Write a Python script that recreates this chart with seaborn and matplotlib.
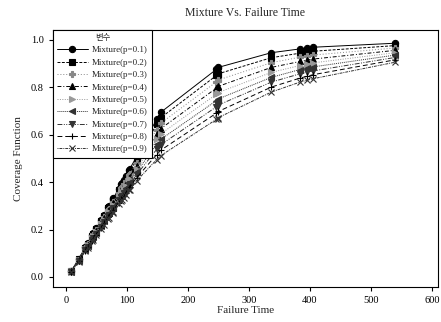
import matplotlib
matplotlib.use('Agg')
import matplotlib.pyplot as plt
import seaborn as sns
import pandas as pd

# NTDS failure times
failure_time = [9, 21, 32, 36, 43, 45, 50, 58, 63, 70, 71, 77, 78, 87, 91, 92, 95, 98,
                104, 105, 116, 149, 156, 247, 249, 250, 337, 384, 396, 405, 540]

cov_p01 = [0.025, 0.075, 0.125, 0.143, 0.175, 0.184, 0.205, 0.240, 0.263, 0.295, 0.300,
           0.327, 0.332, 0.373, 0.392, 0.396, 0.410, 0.424, 0.452, 0.456, 0.507, 0.665,
           0.695, 0.876, 0.880, 0.884, 0.946, 0.962, 0.966, 0.969, 0.986]
cov_p02 = [0.024, 0.074, 0.123, 0.141, 0.172, 0.181, 0.201, 0.235, 0.258, 0.289, 0.294,
           0.320, 0.325, 0.365, 0.383, 0.387, 0.400, 0.414, 0.441, 0.445, 0.494, 0.644,
           0.672, 0.850, 0.853, 0.857, 0.925, 0.944, 0.949, 0.952, 0.976]
cov_p03 = [0.024, 0.073, 0.121, 0.138, 0.169, 0.177, 0.198, 0.231, 0.253, 0.283, 0.288,
           0.313, 0.318, 0.356, 0.374, 0.378, 0.391, 0.404, 0.430, 0.434, 0.481, 0.622,
           0.649, 0.823, 0.827, 0.831, 0.904, 0.927, 0.932, 0.936, 0.966]
cov_p04 = [0.023, 0.071, 0.119, 0.136, 0.166, 0.174, 0.194, 0.226, 0.247, 0.277, 0.281,
           0.306, 0.311, 0.348, 0.365, 0.369, 0.382, 0.394, 0.419, 0.423, 0.469, 0.601,
           0.626, 0.797, 0.800, 0.804, 0.884, 0.909, 0.915, 0.919, 0.956]
cov_p05 = [0.023, 0.070, 0.117, 0.133, 0.163, 0.171, 0.190, 0.222, 0.242, 0.271, 0.275,
           0.299, 0.304, 0.340, 0.356, 0.360, 0.372, 0.384, 0.409, 0.412, 0.456, 0.580,
           0.604, 0.771, 0.774, 0.778, 0.863, 0.892, 0.898, 0.903, 0.946]
cov_p06 = [0.022, 0.069, 0.114, 0.131, 0.159, 0.167, 0.186, 0.217, 0.237, 0.264, 0.269,
           0.292, 0.296, 0.331, 0.347, 0.350, 0.363, 0.374, 0.398, 0.401, 0.443, 0.559,
           0.581, 0.744, 0.747, 0.751, 0.842, 0.875, 0.881, 0.886, 0.936]
cov_p07 = [0.021, 0.068, 0.112, 0.128, 0.156, 0.164, 0.183, 0.212, 0.232, 0.258, 0.262,
           0.285, 0.289, 0.323, 0.338, 0.341, 0.353, 0.364, 0.387, 0.390, 0.431, 0.538,
           0.558, 0.718, 0.721, 0.725, 0.822, 0.857, 0.864, 0.869, 0.926]
cov_p08 = [0.021, 0.066, 0.110, 0.126, 0.153, 0.160, 0.179, 0.208, 0.226, 0.252, 0.256,
           0.278, 0.282, 0.314, 0.329, 0.332, 0.343, 0.354, 0.376, 0.379, 0.418, 0.516,
           0.535, 0.691, 0.694, 0.698, 0.801, 0.839, 0.847, 0.853, 0.916]
cov_p09 = [0.020, 0.065, 0.108, 0.123, 0.150, 0.157, 0.175, 0.203, 0.221, 0.246, 0.250,
           0.271, 0.275, 0.306, 0.320, 0.323, 0.334, 0.344, 0.365, 0.368, 0.405, 0.495,
           0.512, 0.665, 0.668, 0.672, 0.780, 0.822, 0.830, 0.836, 0.906]

series_labels = ['Mixture(p=0.1)', 'Mixture(p=0.2)', 'Mixture(p=0.3)', 'Mixture(p=0.4)',
                 'Mixture(p=0.5)', 'Mixture(p=0.6)', 'Mixture(p=0.7)', 'Mixture(p=0.8)',
                 'Mixture(p=0.9)']
series_vals = [cov_p01, cov_p02, cov_p03, cov_p04, cov_p05, cov_p06, cov_p07, cov_p08, cov_p09]

# estilo de cada serie: marcador, linea, color
estilos = [
    ('o', '-', '#000000'),
    ('s', (0, (3, 1.5)), '#000000'),
    ('P', (0, (1, 2)), '#888888'),
    ('^', (0, (4, 2, 1, 2)), '#000000'),
    ('>', (0, (1, 1.5)), '#999999'),
    ('<', (0, (1, 1)), '#333333'),
    ('v', (0, (5, 1.5, 1, 1.5, 1, 1.5)), '#333333'),
    ('+', (0, (5, 3)), '#000000'),
    ('x', (0, (1, 1, 3, 1)), '#333333'),
]

sns.set_style('ticks')
plt.rcParams['font.family'] = ['Liberation Serif', 'Noto Sans CJK KR']

fig = plt.figure(figsize=(4.41, 3.22), dpi=100, facecolor='white')
ax = fig.add_axes([0.120, 0.109, 0.873, 0.798])

for lab, vals, (mk, ls, col) in zip(series_labels, series_vals, estilos):
    df = pd.DataFrame({'t': failure_time, 'c': vals})
    sns.lineplot(data=df, x='t', y='c', ax=ax, label=lab, color=col,
                 marker=mk, linestyle=ls, linewidth=0.7, markersize=4.5,
                 markeredgecolor=col, markerfacecolor=col, markeredgewidth=0.8)

ax.set_xlim(-21, 610)
ax.set_ylim(-0.042, 1.042)
ax.set_xticks([0, 100, 200, 300, 400, 500, 600])
ax.set_yticks([0.0, 0.2, 0.4, 0.6, 0.8, 1.0])
ax.set_yticklabels(['0.0', '0.2', '0.4', '0.6', '0.8', '1.0'])
ax.tick_params(labelsize=7.5, length=3, width=0.8, direction='out', colors='black')
for s in ax.spines.values():
    s.set_visible(True)
    s.set_linewidth(0.8)
    s.set_color('black')

ax.set_title('Mixture Vs. Failure Time', fontsize=8.5, pad=10)
ax.set_xlabel('Failure Time', fontsize=8, labelpad=1)
ax.set_ylabel('Coverage Function', fontsize=8, labelpad=6)

leg = ax.legend(title='변수', loc='upper left', fontsize=6.5, title_fontsize=6,
                frameon=True, fancybox=False, edgecolor='black', framealpha=1,
                borderaxespad=0, handlelength=3.4, labelspacing=0.45,
                borderpad=0.45, handletextpad=0.5)
leg.get_frame().set_linewidth(0.8)

fig.savefig('out.png', dpi=100)
